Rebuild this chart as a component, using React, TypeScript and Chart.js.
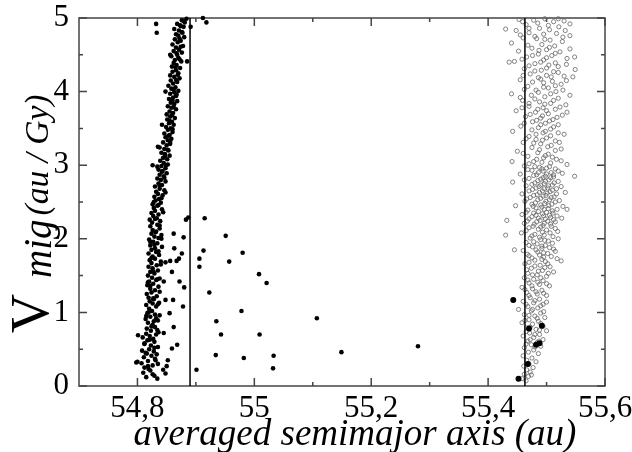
import React, { useEffect, useRef } from 'react';
import { Chart, registerables } from 'chart.js';

Chart.register(...registerables);

// ---- axis ranges and ticks ----
const xRange = [54.7, 55.6];
const yRange = [0, 5];
const xMajorTicks = [54.8, 55.0, 55.2, 55.4, 55.6];
const xTickLabels = ['54,8', '55', '55,2', '55,4', '55,6'];
const xMinorTicks = [54.9, 55.1, 55.3, 55.5];
const yMajorTicks = [0, 1, 2, 3, 4, 5];
const yTickLabels = ['0', '1', '2', '3', '4', '5'];
const yMinorTicks = [0.5, 1.5, 2.5, 3.5, 4.5];

// ---- vertical reference lines (averaged semimajor axis) ----
const boundaryLines = [54.89, 55.463];

// ---- filled dots: main band left of first line ----
const bandPoints: [number, number][] = [
  [54.815, 0.12], [54.829, 0.14], [54.810, 0.18], [54.834, 0.10], [54.822, 0.21],
  [54.812, 0.25], [54.826, 0.28], [54.819, 0.23], [54.835, 0.30], [54.807, 0.31],
  [54.818, 0.34], [54.830, 0.37], [54.811, 0.39], [54.824, 0.41], [54.800, 0.33],
  [54.814, 0.45], [54.828, 0.47], [54.820, 0.50], [54.808, 0.48], [54.833, 0.43],
  [54.823, 0.55], [54.812, 0.57], [54.829, 0.60], [54.817, 0.62], [54.835, 0.53],
  [54.809, 0.66], [54.821, 0.68], [54.827, 0.64], [54.815, 0.71], [54.832, 0.70],
  [54.823, 0.75], [54.816, 0.78], [54.830, 0.80], [54.834, 0.76], [54.826, 0.83],
  [54.818, 0.86], [54.828, 0.88], [54.814, 0.91], [54.835, 0.89], [54.822, 0.94],
  [54.830, 0.97], [54.817, 0.99], [54.825, 1.02], [54.838, 0.96], [54.820, 1.05],
  [54.832, 1.08], [54.815, 1.10], [54.826, 1.12], [54.821, 1.15], [54.837, 1.13],
  [54.828, 1.18], [54.819, 1.20], [54.833, 1.22], [54.816, 1.25], [54.824, 1.27],
  [54.830, 1.30], [54.822, 1.32], [54.836, 1.35], [54.817, 1.37], [54.827, 1.39],
  [54.820, 1.42], [54.832, 1.44], [54.825, 1.47], [54.838, 1.46], [54.818, 1.50],
  [54.829, 1.53], [54.822, 1.55], [54.835, 1.57], [54.826, 1.60], [54.819, 1.62],
  [54.833, 1.64], [54.824, 1.67], [54.840, 1.69], [54.821, 1.71], [54.830, 1.73],
  [54.826, 1.76], [54.837, 1.78], [54.819, 1.80], [54.832, 1.82], [54.824, 1.85],
  [54.830, 1.87], [54.842, 1.89], [54.822, 1.91], [54.834, 1.94], [54.827, 1.96],
  [54.820, 1.99], [54.836, 2.01], [54.829, 2.03], [54.841, 2.05], [54.824, 2.07],
  [54.832, 2.10], [54.826, 2.12], [54.838, 2.14], [54.822, 2.17], [54.834, 2.19],
  [54.825, 2.22], [54.839, 2.24], [54.821, 2.26], [54.833, 2.28], [54.827, 2.31],
  [54.836, 2.33], [54.824, 2.35], [54.830, 2.38], [54.842, 2.40], [54.828, 2.42],
  [54.834, 2.45], [54.826, 2.47], [54.840, 2.49], [54.831, 2.52], [54.837, 2.54],
  [54.829, 2.57], [54.843, 2.59], [54.835, 2.61], [54.832, 2.64], [54.846, 2.66],
  [54.838, 2.68], [54.830, 2.71], [54.842, 2.73], [54.836, 2.75], [54.848, 2.78],
  [54.840, 2.80], [54.834, 2.82], [54.845, 2.85], [54.838, 2.87], [54.850, 2.89],
  [54.843, 2.92], [54.836, 2.94], [54.848, 2.96], [54.841, 2.99], [54.852, 3.01],
  [54.845, 3.03], [54.839, 3.06], [54.851, 3.08], [54.844, 3.10], [54.855, 3.13],
  [54.847, 3.15], [54.841, 3.17], [54.853, 3.20], [54.846, 3.22], [54.838, 3.24],
  [54.850, 3.27], [54.856, 3.29], [54.844, 3.31], [54.852, 3.34], [54.858, 3.36],
  [54.848, 3.38], [54.855, 3.41], [54.846, 3.43], [54.860, 3.45], [54.852, 3.48],
  [54.857, 3.50], [54.849, 3.52], [54.862, 3.55], [54.854, 3.57], [54.859, 3.59],
  [54.851, 3.62], [54.864, 3.64], [54.856, 3.66], [54.850, 3.69], [54.861, 3.71],
  [54.855, 3.73], [54.866, 3.76], [54.858, 3.78], [54.852, 3.80], [54.863, 3.83],
  [54.857, 3.85], [54.868, 3.87], [54.854, 3.90], [54.861, 3.92], [54.866, 3.94],
  [54.856, 3.97], [54.863, 3.99], [54.870, 4.01], [54.858, 4.04], [54.865, 4.06],
  [54.853, 4.08], [54.861, 4.11], [54.868, 4.13], [54.857, 4.15], [54.872, 4.18],
  [54.863, 4.20], [54.856, 4.22], [54.870, 4.25], [54.860, 4.27], [54.866, 4.29],
  [54.873, 4.32], [54.859, 4.34], [54.867, 4.36], [54.862, 4.39], [54.875, 4.41],
  [54.864, 4.43], [54.870, 4.46], [54.858, 4.48], [54.868, 4.50], [54.876, 4.53],
  [54.862, 4.55], [54.871, 4.57], [54.866, 4.60], [54.878, 4.62], [54.860, 4.64],
  [54.869, 4.67], [54.874, 4.69], [54.864, 4.71], [54.880, 4.74], [54.870, 4.76],
  [54.866, 4.78], [54.876, 4.81], [54.871, 4.83], [54.863, 4.85], [54.879, 4.88],
  [54.873, 4.90], [54.868, 4.92], [54.881, 4.94], [54.876, 4.97], [54.884, 4.99],
  [54.826, 0.16], [54.818, 0.27], [54.831, 0.35], [54.816, 0.44], [54.829, 0.52],
  [54.821, 0.63], [54.836, 0.73], [54.824, 0.81], [54.832, 0.92], [54.819, 1.00],
  [54.835, 1.11], [54.827, 1.19], [54.838, 1.28], [54.822, 1.36], [54.834, 1.45],
  [54.827, 1.56], [54.840, 1.65], [54.824, 1.74], [54.836, 1.83], [54.829, 1.92],
  [54.841, 2.00], [54.831, 2.09], [54.838, 2.18], [54.830, 2.27], [54.844, 2.36],
  [54.836, 2.46], [54.841, 2.55], [54.848, 2.63], [54.838, 2.72], [54.846, 2.83],
  [54.842, 2.91], [54.849, 3.00], [54.847, 3.12], [54.852, 3.21], [54.856, 3.32],
  [54.853, 3.40], [54.860, 3.49], [54.855, 3.60], [54.859, 3.68], [54.862, 3.79],
  [54.860, 3.88], [54.867, 3.96], [54.862, 4.03], [54.866, 4.16], [54.869, 4.23],
  [54.865, 4.33], [54.872, 4.44], [54.867, 4.52], [54.874, 4.61], [54.872, 4.72],
  [54.877, 4.80], [54.874, 4.89], [54.879, 4.96],
  [54.812, 0.58], [54.815, 0.95], [54.818, 1.41], [54.822, 1.96], [54.828, 2.50],
  [54.834, 2.98], [54.842, 3.55], [54.848, 4.00], [54.856, 4.50],
];

// ---- filled dots scattered around the band and right of the first line ----
const scatterPoints: [number, number][] = [
  [54.801, 0.69], [54.798, 0.32], [54.832, 4.92], [54.833, 4.80], [54.835, 3.25], [54.826, 3.00],
  [54.883, 2.26], [54.862, 2.07], [54.879, 2.02], [54.863, 1.87], [54.876, 1.80], [54.867, 1.70],
  [54.856, 1.70], [54.848, 1.68], [54.859, 1.55], [54.872, 1.42], [54.845, 1.42], [54.880, 1.34],
  [54.848, 1.17], [54.861, 1.17], [54.878, 1.08], [54.855, 0.99], [54.862, 0.80], [54.845, 0.72],
  [54.868, 0.56], [54.859, 0.51], [54.848, 0.17], [54.844, 0.22], [54.852, 0.35], [54.850, 0.27],
  [54.885, 4.41], [54.891, 4.88], [54.912, 5.00], [54.918, 4.94], [54.887, 2.29], [54.871, 1.73],
  [54.915, 2.28], [54.951, 2.04], [54.913, 1.84], [54.980, 1.81], [54.906, 1.73], [54.957, 1.69],
  [54.906, 1.62], [55.008, 1.52], [55.021, 1.40], [54.923, 1.27], [54.978, 1.02], [54.935, 0.88],
  [54.943, 0.70], [55.009, 0.70], [54.934, 0.42], [54.982, 0.38], [55.033, 0.41], [55.032, 0.24],
  [54.901, 0.22], [55.107, 0.92], [55.149, 0.46], [55.280, 0.54],
];

// ---- filled dots among the open circles ----
const outerFilled: [number, number][] = [
  [55.443, 1.17], [55.470, 0.78], [55.492, 0.82], [55.482, 0.56], [55.488, 0.58], [55.468, 0.30], [55.452, 0.10],
];

// ---- open circles ----
const openPoints: [number, number][] = [
  [55.453, 4.98], [55.478, 4.97], [55.497, 4.99], [55.512, 4.95], [55.530, 4.96], [55.465, 4.91], [55.503, 4.90], [55.521, 4.88], [55.488, 4.86], [55.448, 4.83],
  [55.470, 4.80], [55.495, 4.78], [55.517, 4.79], [55.540, 4.76], [55.460, 4.73], [55.483, 4.72], [55.506, 4.70], [55.527, 4.68], [55.440, 4.66], [55.492, 4.64], [55.514, 4.62],
  [55.475, 4.59], [55.500, 4.57], [55.452, 4.55], [55.523, 4.54], [55.486, 4.51], [55.509, 4.49], [55.466, 4.47], [55.535, 4.45], [55.495, 4.43], [55.445, 4.41],
  [55.480, 4.38], [55.504, 4.36], [55.520, 4.34], [55.462, 4.31], [55.491, 4.29], [55.512, 4.27], [55.549, 4.30], [55.472, 4.24], [55.500, 4.22], [55.530, 4.21],
  [55.486, 4.19], [55.455, 4.16], [55.510, 4.14], [55.495, 4.12], [55.525, 4.10], [55.468, 4.07], [55.503, 4.05], [55.482, 4.02], [55.516, 4.00],
  [55.440, 3.97], [55.474, 3.95], [55.497, 3.93], [55.520, 3.91], [55.459, 3.88], [55.488, 3.86], [55.507, 3.84], [55.533, 3.82], [55.470, 3.80],
  [55.494, 3.78], [55.515, 3.76], [55.448, 3.74], [55.481, 3.72], [55.503, 3.70], [55.527, 3.68], [55.464, 3.66], [55.490, 3.64], [55.511, 3.62],
  [55.476, 3.59], [55.498, 3.57], [55.520, 3.55], [55.456, 3.53], [55.486, 3.51], [55.507, 3.49], [55.442, 3.46], [55.494, 3.44], [55.530, 3.42],
  [55.470, 3.39], [55.500, 3.37], [55.482, 3.35], [55.515, 3.33], [55.460, 3.31], [55.490, 3.29], [55.508, 3.27], [55.475, 3.24], [55.525, 3.22],
  [55.450, 3.19], [55.485, 3.17], [55.503, 3.15], [55.468, 3.12], [55.495, 3.10], [55.517, 3.08], [55.478, 3.05], [55.507, 3.03], [55.535, 3.01],
  [55.462, 2.99], [55.488, 2.97], [55.500, 2.96], [55.515, 2.95], [55.475, 2.93], [55.494, 2.92], [55.508, 2.90], [55.527, 2.89], [55.455, 2.88], [55.483, 2.87],
  [55.498, 2.85], [55.512, 2.84], [55.470, 2.82], [55.490, 2.81], [55.504, 2.80], [55.520, 2.78], [55.442, 2.77], [55.480, 2.76], [55.496, 2.75], [55.510, 2.73],
  [55.465, 2.72], [55.487, 2.71], [55.502, 2.69], [55.517, 2.68], [55.476, 2.67], [55.493, 2.65], [55.506, 2.64], [55.532, 2.63], [55.458, 2.61], [55.484, 2.60],
  [55.499, 2.59], [55.513, 2.57], [55.472, 2.56], [55.490, 2.55], [55.505, 2.53], [55.522, 2.52], [55.463, 2.51], [55.481, 2.49], [55.497, 2.48], [55.509, 2.47],
  [55.447, 2.45], [55.477, 2.44], [55.492, 2.43], [55.503, 2.41], [55.518, 2.40], [55.468, 2.39], [55.486, 2.37], [55.500, 2.36], [55.511, 2.35], [55.458, 2.33],
  [55.482, 2.32], [55.495, 2.31], [55.507, 2.29], [55.526, 2.28], [55.470, 2.27], [55.489, 2.25], [55.502, 2.24], [55.515, 2.23], [55.462, 2.21], [55.479, 2.20],
  [55.494, 2.18], [55.508, 2.17], [55.470, 2.15], [55.486, 2.13], [55.500, 2.12], [55.519, 2.10], [55.457, 2.08], [55.480, 2.06], [55.496, 2.05], [55.511, 2.03],
  [55.472, 2.01], [55.490, 1.99], [55.503, 1.97], [55.465, 1.95], [55.484, 1.93], [55.498, 1.91],
  [55.476, 1.89], [55.492, 1.87], [55.512, 1.86], [55.460, 1.84], [55.485, 1.82], [55.502, 1.80], [55.470, 1.77], [55.495, 1.75], [55.518, 1.73], [55.480, 1.71],
  [55.498, 1.69], [55.463, 1.66], [55.489, 1.64], [55.506, 1.62], [55.474, 1.60], [55.493, 1.57], [55.512, 1.55], [55.468, 1.53], [55.484, 1.51],
  [55.500, 1.49], [55.462, 1.47], [55.478, 1.45], [55.494, 1.43], [55.470, 1.40], [55.488, 1.38], [55.505, 1.36], [55.458, 1.34], [55.476, 1.32], [55.492, 1.30],
  [55.466, 1.27], [55.484, 1.25], [55.500, 1.23], [55.472, 1.20], [55.488, 1.18], [55.460, 1.15], [55.478, 1.13], [55.494, 1.11], [55.468, 1.08], [55.485, 1.06],
  [55.452, 1.04], [55.474, 1.02],
  [55.490, 0.99], [55.462, 0.97], [55.480, 0.95], [55.497, 0.93], [55.470, 0.90], [55.486, 0.88], [55.458, 0.86], [55.476, 0.84], [55.494, 0.81], [55.466, 0.79],
  [55.482, 0.77], [55.500, 0.75], [55.471, 0.72], [55.488, 0.70], [55.460, 0.68], [55.478, 0.66], [55.494, 0.63], [55.468, 0.61], [55.484, 0.59], [55.474, 0.56],
  [55.490, 0.54], [55.462, 0.52],
  [55.478, 0.49], [55.469, 0.46], [55.486, 0.44], [55.460, 0.41], [55.475, 0.38], [55.466, 0.35], [55.482, 0.33], [55.470, 0.30], [55.461, 0.27], [55.477, 0.25],
  [55.466, 0.22], [55.472, 0.19], [55.462, 0.16], [55.469, 0.13], [55.458, 0.10], [55.465, 0.07], [55.474, 0.15],
  [55.430, 4.85], [55.436, 4.40], [55.441, 3.05], [55.432, 2.25], [55.430, 2.05], [55.445, 1.85],
  [55.545, 4.20], [55.540, 3.95], [55.548, 2.85], [55.535, 2.40],
  [55.459, 4.95], [55.485, 4.93], [55.520, 4.99], [55.540, 4.92], [55.470, 4.86], [55.505, 4.84], [55.532, 4.83], [55.455, 4.77], [55.480, 4.75], [55.528, 4.74],
  [55.497, 4.71], [55.468, 4.63], [55.505, 4.60], [55.540, 4.58], [55.487, 4.56], [55.515, 4.52], [55.476, 4.49], [55.548, 4.47], [55.500, 4.46], [55.458, 4.44],
  [55.490, 4.40], [55.515, 4.39], [55.534, 4.37], [55.470, 4.35], [55.500, 4.32], [55.480, 4.28], [55.520, 4.26], [55.460, 4.22], [55.508, 4.20], [55.490, 4.17],
  [55.534, 4.15], [55.476, 4.13], [55.515, 4.08], [55.495, 4.06], [55.462, 4.03], [55.528, 4.02], [55.486, 3.99], [55.507, 3.97], [55.455, 3.92], [55.480, 3.90],
  [55.512, 3.88], [55.497, 3.83], [55.470, 3.84], [55.523, 3.79], [55.485, 3.76], [55.458, 3.78], [55.500, 3.74], [55.535, 3.72], [55.472, 3.69], [55.493, 3.67],
  [55.518, 3.65], [55.483, 3.61], [55.505, 3.60], [55.462, 3.57], [55.490, 3.55], [55.512, 3.52], [55.475, 3.48], [55.498, 3.46], [55.520, 3.44], [55.482, 3.42],
  [55.507, 3.40], [55.465, 3.36], [55.493, 3.34], [55.522, 3.31], [55.478, 3.30], [55.502, 3.25], [55.515, 3.20], [55.488, 3.21], [55.460, 3.16], [55.498, 3.13],
  [55.510, 3.11], [55.483, 3.08], [55.525, 3.06], [55.492, 3.04], [55.470, 3.02],
  [55.480, 2.98], [55.505, 2.98], [55.492, 2.95], [55.468, 2.94], [55.520, 2.92], [55.486, 2.90], [55.500, 2.88], [55.512, 2.87], [55.478, 2.86], [55.494, 2.83],
  [55.507, 2.83], [55.462, 2.80], [55.485, 2.79], [55.498, 2.78], [55.513, 2.76], [55.475, 2.74], [55.490, 2.73], [55.503, 2.72], [55.525, 2.71], [55.482, 2.69],
  [55.496, 2.68], [55.510, 2.66], [55.470, 2.65], [55.488, 2.63], [55.501, 2.62], [55.517, 2.61], [55.478, 2.59], [55.494, 2.58], [55.508, 2.56], [55.466, 2.54],
  [55.485, 2.53], [55.499, 2.51], [55.515, 2.50], [55.475, 2.47], [55.490, 2.46], [55.504, 2.45], [55.528, 2.44], [55.482, 2.42], [55.496, 2.40], [55.510, 2.38],
  [55.465, 2.36], [55.478, 2.35], [55.493, 2.34], [55.505, 2.32], [55.518, 2.31], [55.475, 2.30], [55.486, 2.28], [55.498, 2.27], [55.512, 2.26], [55.467, 2.24],
  [55.483, 2.23], [55.496, 2.21], [55.507, 2.20],
  [55.477, 2.17], [55.490, 2.16], [55.515, 2.14], [55.465, 2.11], [55.493, 2.09], [55.506, 2.08], [55.475, 2.04], [55.488, 2.02], [55.520, 2.00], [55.497, 1.98],
  [55.478, 1.96], [55.510, 1.94], [55.470, 1.91], [55.492, 1.90], [55.505, 1.88], [55.482, 1.85], [55.515, 1.83], [55.495, 1.81], [55.467, 1.79], [55.488, 1.78],
  [55.508, 1.76], [55.475, 1.74], [55.492, 1.72], [55.525, 1.70], [55.470, 1.68], [55.502, 1.66], [55.480, 1.63], [55.497, 1.61], [55.466, 1.58], [55.486, 1.56],
  [55.503, 1.53], [55.476, 1.51],
  [55.490, 1.47], [55.468, 1.44], [55.485, 1.41], [55.500, 1.39], [55.475, 1.36], [55.463, 1.31], [55.482, 1.28], [55.495, 1.26], [55.470, 1.23], [55.480, 1.16],
  [55.500, 1.14], [55.465, 1.11], [55.490, 1.09], [55.476, 1.04], [55.495, 1.01], [55.470, 0.96], [55.484, 0.92], [55.463, 0.89], [55.490, 0.85], [55.472, 0.80],
  [55.488, 0.76], [55.465, 0.74], [55.480, 0.70], [55.472, 0.63], [55.487, 0.61], [55.465, 0.57], [55.480, 0.53],
];

// ---- texts ----
const xTitle = 'averaged semimajor axis (au)';
const yTitleMain = 'V';
const yTitleSub = 'mig';
const yTitleUnit = '(au / Gy)';

const SERIF = '"Liberation Serif", "DejaVu Serif", serif';

const toXY = (pts: [number, number][]) => pts.map(([x, y]) => ({ x, y }));

const framePlugin = {
  id: 'frameTicks',
  beforeDatasetsDraw(chart: any) {
    const { ctx, chartArea } = chart;
    const xs = chart.scales.x;
    const ys = chart.scales.y;
    const { left, right, top, bottom } = chartArea;
    ctx.save();
    ctx.strokeStyle = '#444';
    ctx.lineWidth = 1.5;
    ctx.strokeRect(left, top, right - left, bottom - top);
    const major = 8;
    const minor = 4;
    ctx.beginPath();
    const xTick = (v: number, len: number) => {
      const p = xs.getPixelForValue(v);
      ctx.moveTo(p, bottom);
      ctx.lineTo(p, bottom - len);
      ctx.moveTo(p, top);
      ctx.lineTo(p, top + len);
    };
    const yTick = (v: number, len: number) => {
      const p = ys.getPixelForValue(v);
      ctx.moveTo(left, p);
      ctx.lineTo(left + len, p);
      ctx.moveTo(right, p);
      ctx.lineTo(right - len, p);
    };
    xMajorTicks.forEach((v) => xTick(v, major));
    xMinorTicks.forEach((v) => xTick(v, minor));
    yMajorTicks.forEach((v) => yTick(v, major));
    yMinorTicks.forEach((v) => yTick(v, minor));
    ctx.stroke();
    ctx.restore();
  },
};

const titlePlugin = {
  id: 'axisTitles',
  afterDraw(chart: any) {
    const { ctx, chartArea } = chart;
    ctx.save();
    ctx.fillStyle = '#000';
    ctx.textBaseline = 'alphabetic';
    // x title
    ctx.textAlign = 'center';
    ctx.font = `italic 37px ${SERIF}`;
    ctx.fillText(xTitle, (chartArea.left + chartArea.right) / 2 + 13, 445);
    // y title (rotated, reading upwards)
    ctx.translate(48, 333);
    ctx.rotate(-Math.PI / 2);
    ctx.textAlign = 'left';
    ctx.font = `54px ${SERIF}`;
    ctx.fillText(yTitleMain, 0, 0);
    ctx.font = `italic 39px ${SERIF}`;
    ctx.fillText(yTitleSub, 55, 3);
    const subEnd = 55 + ctx.measureText(yTitleSub).width;
    ctx.font = `italic 33.5px ${SERIF}`;
    ctx.fillText(yTitleUnit, subEnd + 4, 0);
    ctx.restore();
  },
};

export default function App() {
  const canvasRef = useRef<HTMLCanvasElement | null>(null);

  useEffect(() => {
    const canvas = canvasRef.current;
    if (!canvas) return;
    const chart = new Chart(canvas, {
      type: 'scatter',
      data: {
        datasets: [
          {
            label: 'band',
            data: toXY([...bandPoints, ...scatterPoints]),
            pointRadius: 2.3,
            pointBackgroundColor: '#000',
            pointBorderWidth: 0,
            clip: false,
          } as any,
          {
            label: 'outer filled',
            data: toXY(outerFilled),
            pointRadius: 3,
            pointBackgroundColor: '#000',
            pointBorderWidth: 0,
            clip: false,
          } as any,
          ...boundaryLines.map((v) => ({
            label: 'line ' + v,
            data: [
              { x: v, y: yRange[0] },
              { x: v, y: yRange[1] },
            ],
            showLine: true,
            borderColor: '#000',
            borderWidth: 1.5,
            pointRadius: 0,
          })),
          {
            label: 'open',
            data: toXY(openPoints),
            pointRadius: 2.1,
            pointBackgroundColor: 'rgba(0,0,0,0)',
            pointBorderColor: '#666',
            pointBorderWidth: 0.8,
            clip: false,
          } as any,
        ],
      },
      options: {
        animation: false,
        responsive: false,
        maintainAspectRatio: false,
        devicePixelRatio: 1,
        events: [],
        layout: { padding: { top: 18, right: 27, left: 0, bottom: 0 } },
        plugins: { legend: { display: false }, tooltip: { enabled: false }, title: { display: false } },
        scales: {
          x: {
            type: 'linear',
            min: xRange[0],
            max: xRange[1],
            grid: { display: false, drawTicks: false },
            border: { display: false },
            afterBuildTicks: (s: any) => {
              s.ticks = xMajorTicks.map((v) => ({ value: v }));
            },
            ticks: {
              callback: (_v: any, i: number) => xTickLabels[i],
              font: { family: SERIF, size: 31, lineHeight: 1 },
              color: '#000',
              padding: 7,
              maxRotation: 0,
              autoSkip: false,
            },
            afterFit: (s: any) => {
              s.height = 66;
              s.paddingLeft = 0;
              s.paddingRight = 0;
            },
          },
          y: {
            type: 'linear',
            min: yRange[0],
            max: yRange[1],
            grid: { display: false, drawTicks: false },
            border: { display: false },
            afterBuildTicks: (s: any) => {
              s.ticks = yMajorTicks.map((v) => ({ value: v }));
            },
            ticks: {
              callback: (_v: any, i: number) => yTickLabels[i],
              font: { family: SERIF, size: 31, lineHeight: 1 },
              color: '#000',
              padding: 10,
              autoSkip: false,
            },
            afterFit: (s: any) => {
              s.width = 79;
              s.paddingTop = 0;
              s.paddingBottom = 0;
            },
          },
        },
      },
      plugins: [framePlugin, titlePlugin],
    } as any);
    return () => chart.destroy();
  }, []);

  return (
    <div style={{ position: 'fixed', left: 0, top: 0, width: 632, height: 452, background: '#fff' }}>
      <canvas ref={canvasRef} width={632} height={452} style={{ display: 'block' }} />
    </div>
  );
}
